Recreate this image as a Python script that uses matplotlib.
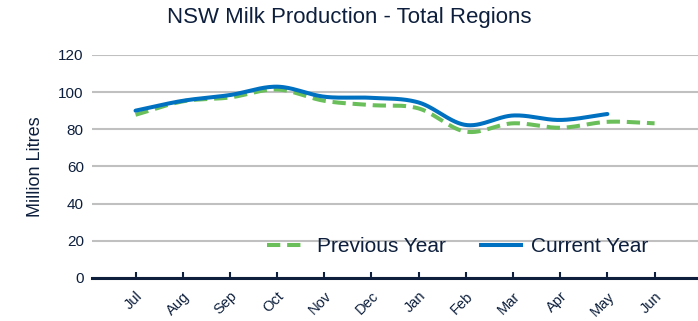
import numpy as np
import matplotlib
matplotlib.use("Agg")
import matplotlib.pyplot as plt
from matplotlib.lines import Line2D

plt.rcParams['font.family'] = ['Liberation Sans', 'DejaVu Sans']

months = ["Jul", "Aug", "Sep", "Oct", "Nov", "Dec", "Jan", "Feb", "Mar", "Apr", "May", "Jun"]
previous_year = [87.8, 95.0, 97.1, 101.4, 95.3, 93.0, 91.2, 78.7, 83.2, 80.8, 84.0, 83.2]
current_year = [90.0, 95.3, 98.4, 102.9, 97.5, 96.9, 94.4, 82.3, 87.4, 85.0, 88.2]
y_ticks = [0, 20, 40, 60, 80, 100, 120]

NAVY = "#0d1f3c"
BLUE = "#0070c0"
GREEN = "#6abf5a"
DASH = (0, (3.3, 1.7))


def smooth(xs, ys, n=30):
    """Catmull-Rom curve through the points (similar to a smoothed line chart)."""
    xs = np.asarray(xs, float)
    ys = np.asarray(ys, float)
    px = np.concatenate([[2 * xs[0] - xs[1]], xs, [2 * xs[-1] - xs[-2]]])
    py = np.concatenate([[2 * ys[0] - ys[1]], ys, [2 * ys[-1] - ys[-2]]])
    out_x, out_y = [], []
    for i in range(1, len(px) - 2):
        t = np.linspace(0, 1, n, endpoint=(i == len(px) - 3))
        for arr, out in ((px, out_x), (py, out_y)):
            p0, p1, p2, p3 = arr[i - 1], arr[i], arr[i + 1], arr[i + 2]
            out.extend(0.5 * ((2 * p1) + (-p0 + p2) * t
                              + (2 * p0 - 5 * p1 + 4 * p2 - p3) * t ** 2
                              + (-p0 + 3 * p1 - 3 * p2 + p3) * t ** 3))
    return np.array(out_x), np.array(out_y)


fig = plt.figure(figsize=(6.98, 3.21), dpi=100)
ax = fig.add_axes([0.132, 0.134, 0.868, 0.695])

x_prev = np.arange(len(previous_year))
x_cur = np.arange(len(current_year))
sx, sy = smooth(x_prev, previous_year)
ax.plot(sx, sy, color=GREEN, lw=2.9, ls=DASH, solid_capstyle='butt', zorder=3)
sx, sy = smooth(x_cur, current_year)
ax.plot(sx, sy, color=BLUE, lw=2.9, solid_capstyle='round', zorder=4)

ax.set_xlim(-0.92, 11.92)
ax.set_ylim(0, 120)
ax.set_yticks(y_ticks)
ax.set_yticklabels([str(v) for v in y_ticks], fontsize=11, color=NAVY)
ax.yaxis.grid(True, color="#c0c0c0", lw=1.5)
ax.set_axisbelow(True)
ax.tick_params(axis='y', length=0, pad=6)

ax.set_xticks(np.arange(len(months)))
ax.set_xticklabels(months, rotation=45, ha='right', rotation_mode='anchor',
                   fontsize=10.5, color=NAVY)
ax.tick_params(axis='x', direction='in', length=4, width=1.5, color=NAVY, pad=8)

for side in ("left", "right", "top"):
    ax.spines[side].set_visible(False)
ax.spines['bottom'].set_color(NAVY)
ax.spines['bottom'].set_linewidth(2.2)
ax.spines['bottom'].set_zorder(5)

ax.set_ylabel("Million Litres", fontsize=13, color=NAVY, labelpad=10)

fig.text(0.5, 0.944, "NSW Milk Production - Total Regions", ha='center', va='center',
         fontsize=16, color=NAVY)

handles = [Line2D([], [], color=GREEN, lw=2.9, ls=DASH),
           Line2D([], [], color=BLUE, lw=2.9)]
fig.legend(handles, ["Previous Year", "Current Year"], loc='center left',
           bbox_to_anchor=(267 / 698, 1 - 247 / 321), bbox_transform=fig.transFigure,
           ncol=2, frameon=False, fontsize=15, borderpad=0, borderaxespad=0,
           handlelength=1.92, handletextpad=0.5, columnspacing=1.65, labelcolor=NAVY)

fig.savefig("out.png", dpi=100)
